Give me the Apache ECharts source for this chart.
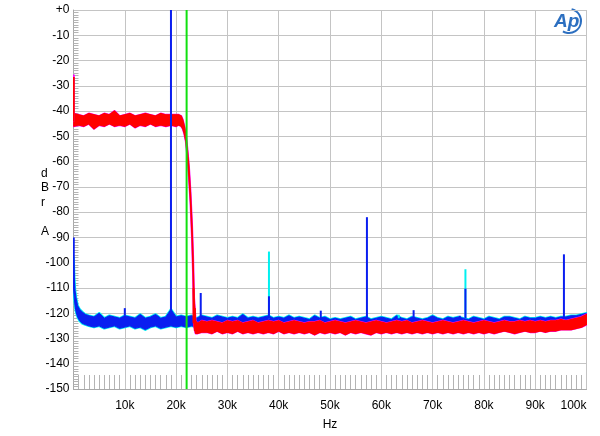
<!DOCTYPE html>
<html>
<head>
<meta charset="utf-8">
<script src="https://cdn.jsdelivr.net/npm/echarts@6/dist/echarts.min.js"></script>
<style>
html,body{margin:0;padding:0;background:#fff;}
#chart{width:600px;height:436px;}
</style>
</head>
<body>
<div id="chart"></div>
<script>
// Frequency in kHz, level in dBr A
const xTicksK = [10, 20, 30, 40, 50, 60, 70, 80, 90, 100];
const yTicks = [0, -10, -20, -30, -40, -50, -60, -70, -80, -90, -100, -110, -120, -130, -140, -150];

// Noise floor bands: [freq kHz, lower edge dB, upper edge dB]
const blueFloor = [
  [0,-110,-98],[0.15,-114,-106],[0.3,-117,-111],[0.5,-119.5,-114],[0.8,-121.5,-117],[1.2,-123,-118.5],
  [1.7,-124,-119.5],[2.3,-124.5,-120.5],[3,-125,-121],[4,-125.5,-121.5],[5,-125,-120],[6,-126,-122],
  [7,-125.5,-121],[8,-125,-121.5],[9,-126,-122],[10,-125.5,-121],[11,-125,-121.5],[12,-126,-122],
  [13,-125.5,-120.5],[14,-126.5,-122],[15,-125.5,-121.5],[16,-125,-120.5],[17,-126,-122],[18,-125.5,-121.5],
  [19,-125,-118.5],[20,-125.5,-121.5],[21,-125,-121],[22,-125.5,-121.5],[23,-125,-121],[24,-125.5,-122],
  [25,-125,-121],[26,-125.5,-121.5],[27,-126,-122],[28,-125,-121],[29,-125.5,-121.5],[30,-126,-122],
  [31,-125.5,-121.5],[32,-126,-122],[33,-125,-120.5],[34,-126,-122],[35,-125.5,-121.5],[36,-126,-122],
  [37,-125.5,-121.5],[38,-125,-121],[39,-126,-122],[40,-125.5,-121.5],[41,-126,-122],[42,-125,-121],
  [43,-126,-122],[44,-125.5,-121.5],[45,-126,-122],[46,-126.5,-122.5],[47,-125.5,-121],[48,-126,-122],
  [49,-125.5,-121.5],[50,-126.5,-122.5],[51,-126,-122],[52,-126.5,-122.5],[53,-126,-122],[54,-125.5,-121.5],
  [55,-126.5,-122.5],[56,-126,-122],[57,-125.5,-121.5],[58,-126.5,-122.5],[59,-126,-122],[60,-125.5,-121.5],
  [61,-126,-122],[62,-126.5,-122.5],[63,-125.5,-121],[64,-126,-122],[65,-126.5,-122.5],[66,-125.5,-121.5],
  [67,-126,-122],[68,-126.5,-122.5],[69,-126,-122],[70,-125.5,-121],[71,-126,-122],[72,-126.5,-122.5],
  [73,-125.5,-121.5],[74,-126,-122],[75,-125.5,-121.5],[76,-126,-122],[77,-126.5,-122.5],[78,-125.5,-121.5],
  [79,-126,-122],[80,-126.5,-122.5],[81,-125.5,-121.5],[82,-126,-122],[83,-126.5,-122.5],[84,-126,-121.5],
  [85,-125.5,-121.5],[86,-126,-122],[87,-126.5,-122.5],[88,-125.5,-121.5],[89,-126,-122],[90,-126,-122],
  [91,-125.5,-121.5],[92,-126,-122],[93,-125.5,-121.5],[94,-126,-122],[95,-125.5,-121.5],[96,-125.5,-121.5],
  [97,-125,-121],[98,-125,-121],[99,-124.5,-120.5],[100,-124,-120]
];

const redFloor = [
  [0.05,-46,-41],[1,-45.5,-41.5],[2,-46,-42],[3,-45,-41],[4,-47,-41.5],[5,-45.5,-42],[6,-46,-41],
  [7,-45,-41.5],[8,-46,-40],[9,-45.5,-42],[10,-46,-41.5],[11,-45,-41],[12,-46.5,-42],[13,-45.5,-41.5],
  [14,-46,-41],[15,-45,-41.5],[16,-46,-42],[17,-45.5,-41],[18,-46,-41.5],[19,-45.5,-41.5],[20,-46,-41.5],
  [20.5,-45.5,-41.5],[21,-46,-42],[21.3,-47,-43.5],[21.6,-49,-46],[21.9,-52,-49],[22.2,-58,-55],
  [22.5,-66,-62],[22.8,-76,-72],[23.1,-90,-85],[23.3,-104,-97],[23.5,-125,-114],[23.8,-128,-123],
  [24.2,-128,-124],[25,-127.5,-123],[26,-127.5,-123.5],[27,-128,-123],[28,-127,-123.5],[29,-128,-124],
  [30,-127.5,-123],[31,-128,-123.5],[32,-127,-123],[33,-128,-124],[34,-127.5,-123.5],[35,-128,-123],
  [36,-127.5,-124],[37,-128,-123.5],[38,-127.5,-123],[39,-128,-123.5],[40,-127,-123],[41,-128,-124],
  [42,-127.5,-123.5],[43,-128,-123],[44,-127.5,-123.5],[45,-128,-124],[46,-127.5,-123.5],[47,-128.5,-123.5],
  [48,-127.5,-123],[49,-128,-124],[50,-127.5,-123.5],[51,-128,-123],[52,-127.5,-123.5],[53,-128.5,-124],
  [54,-127.5,-123.5],[55,-128,-123],[56,-127.5,-123.5],[57,-128,-124],[58,-128.5,-123.5],[59,-127.5,-123],
  [60,-128,-123.5],[61,-127.5,-124],[62,-128,-123.5],[63,-127.5,-123],[64,-128,-123.5],[65,-127.5,-123],
  [66,-128,-124],[67,-127.5,-123.5],[68,-128,-123],[69,-127.5,-123.5],[70,-128,-124],[71,-127.5,-123.5],
  [72,-128,-123],[73,-127.5,-123.5],[74,-128,-124],[75,-127.5,-123.5],[76,-128,-123],[77,-127.5,-123.5],
  [78,-128,-124],[79,-127.5,-123.5],[80,-128,-123],[81,-127.5,-123.5],[82,-128,-124],[83,-127.5,-123.5],
  [84,-127,-123],[85,-127.5,-123.5],[86,-128,-123.5],[87,-127.5,-123],[88,-127,-123.5],[89,-127.5,-123],
  [90,-127.5,-123.5],[91,-127,-123],[92,-127.5,-123.5],[93,-127,-123],[94,-127,-123],[95,-126.5,-122.5],
  [96,-126.5,-123],[97,-126.5,-122.5],[98,-126,-122],[99,-125.5,-121.5],[100,-124.5,-120.5]
];

// Discrete tones: [freq kHz, base dB, peak dB]
const blueSpikes = [
  [0.05,-110,-90],[10.0,-121,-118],[19.0,-121,0],[24.8,-122,-112],[38.1,-122,-113.3],[48.2,-122,-119],
  [57.2,-122,-82],[66.3,-122,-118.8],[75.3,-122,-121],[76.4,-122,-110.3],[95.6,-122,-96.7]
];
const cyanSpikes = [[38.1,-122,-95.6],[63.4,-122,-120.6],[76.4,-122,-102.6]];
const redSpikes = [[0.05,-44,-26.5],[23.4,-124,-110],[23.65,-127,-118]];
const magentaSpikes = [[0.05,-44,-25.5]];

const markerK = 22.05;   // green marker line
const markerSpan = [0, -150];

const chart = echarts.init(document.getElementById('chart'), null, {renderer: 'canvas'});

function band(name, data, color, w) {
  return {
    type: 'custom', name: name, data: data, silent: true, clip: true,
    encode: {x: 0, y: [1, 2]},
    renderItem: function (params, api) {
      if (params.dataIndexInside !== 0) return null;
      const n = params.dataInsideLength;
      const pts = [];
      for (let i = 0; i < n; i++) pts.push(api.coord([api.value(0, i), api.value(1, i)]));
      for (let i = n - 1; i >= 0; i--) pts.push(api.coord([api.value(0, i), api.value(2, i)]));
      return {type: 'polygon', shape: {points: pts},
              style: {fill: color, stroke: color, lineWidth: w, lineJoin: 'round'}};
    }
  };
}
function spikes(name, data, color, w) {
  return {
    type: 'custom', name: name, data: data, silent: true, clip: true,
    encode: {x: 0, y: [1, 2]},
    renderItem: function (params, api) {
      const a = api.coord([api.value(0), api.value(1)]);
      const b = api.coord([api.value(0), api.value(2)]);
      return {type: 'line', shape: {x1: a[0], y1: a[1], x2: b[0], y2: b[1]},
              style: {stroke: color, lineWidth: w}};
    }
  };
}

const font = '"Liberation Sans", Arial, sans-serif';

const option = {
  animation: false,
  backgroundColor: '#ffffff',
  grid: {left: 73.5, right: 13.5, top: 10, bottom: 43},
  xAxis: {
    type: 'value', min: 0, max: 100, interval: 10,
    axisLine: {show: true, onZero: false, lineStyle: {color: '#a8a8a8', width: 1}},
    axisTick: {show: false, inside: true},
    minorTick: {show: true, splitNumber: 10, length: 14, lineStyle: {color: '#b4b4b4', width: 1}},
    splitLine: {show: true, lineStyle: {color: '#c4c4c4', width: 1}},
    axisLabel: {
      color: '#000', fontSize: 12, fontFamily: font, margin: 11, alignMaxLabel: 'right',
      formatter: v => (xTicksK.indexOf(v) >= 0 ? v + 'k' : '')
    },
    name: 'Hz', nameLocation: 'middle', nameGap: 30,
    nameTextStyle: {color: '#000', fontSize: 12, fontFamily: font}
  },
  yAxis: {
    type: 'value', min: -150, max: 0, interval: 10,
    axisLine: {show: true, onZero: false, lineStyle: {color: '#a8a8a8', width: 1}},
    axisTick: {show: false, inside: true},
    minorTick: {show: true, splitNumber: 10, length: 5, lineStyle: {color: '#b4b4b4', width: 1}},
    splitLine: {show: true, lineStyle: {color: '#c4c4c4', width: 1}},
    axisLabel: {
      color: '#000', fontSize: 12, fontFamily: font, margin: 4,
      formatter: v => (yTicks.indexOf(v) >= 0 ? (v === 0 ? '+0' : String(v)) : '')
    }
  },
  graphic: [
    {type: 'text', left: 41, top: 166, silent: true,
     style: {text: 'd\nB\nr\n\nA', fill: '#000', font: '12px ' + font, lineHeight: 14.5, align: 'center'}},
    {type: 'text', left: 554, top: 12, silent: true,
     style: {text: 'Ap', fill: '#2c6fc0', font: 'italic bold 19px ' + font}},
    {type: 'arc', silent: true, shape: {cx: 569, cy: 21, r: 12, startAngle: -1.35, endAngle: 2.1, clockwise: true},
     style: {stroke: '#2c6fc0', lineWidth: 2, fill: 'none'}}
  ],
  series: [
    band('cyan', blueFloor, '#00f0f0', 2.5),
    band('blue', blueFloor, '#0a1ef0', 1),
    band('magenta', redFloor, '#ff00ff', 2),
    band('red', redFloor, '#ff0000', 1.2),
    spikes('cyanSpikes', cyanSpikes, '#00f0f0', 2),
    spikes('blueSpikes', blueSpikes, '#0a1ef0', 2),
    spikes('magentaSpikes', magentaSpikes, '#ff00ff', 2),
    spikes('redSpikes', redSpikes, '#ff0000', 2),
    {type: 'line', name: 'marker', data: markerSpan.map(v => [markerK, v]), symbol: 'none', silent: true,
     lineStyle: {color: '#10e010', width: 2}}
  ]
};
chart.setOption(option);
</script>
</body>
</html>
